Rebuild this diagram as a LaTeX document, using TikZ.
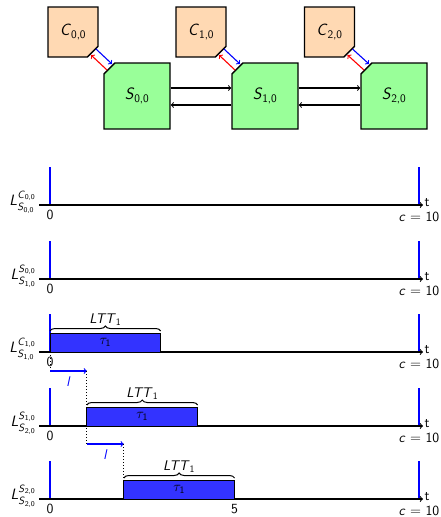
\documentclass[tikz,border=0pt]{standalone}
\usepackage{amsmath}
\usetikzlibrary{shapes.misc,decorations.pathreplacing,calc}
\renewcommand{\familydefault}{\sfdefault}
\definecolor{cpeach}{RGB}{255,217,179}
\definecolor{sgreen}{RGB}{153,255,153}
\definecolor{taskblue}{RGB}{51,51,255}
% italic sans symbol with an upright subscript
\newcommand{\symb}[2]{\textit{#1}\textsubscript{#2}}
% link latency label L^{from}_{to}
\newcommand{\lnk}[2]{$\text{\itshape L}^{\text{#1}}_{\text{#2}}$}
\begin{document}
\begin{tikzpicture}[x=1pt,y=-1pt,font=\sffamily\fontsize{14}{16}\selectfont,
  cbox/.style={chamfered rectangle,chamfered rectangle corners=south east,
    chamfered rectangle xsep=9pt,draw,line width=1.4pt,fill=cpeach,
    minimum width=50pt,minimum height=50pt,inner sep=0pt,font=\sffamily\fontsize{16.5}{18}\selectfont},
  sbox/.style={chamfered rectangle,chamfered rectangle corners=north west,
    chamfered rectangle xsep=8pt,draw,line width=1.4pt,fill=sgreen,
    minimum width=66pt,minimum height=66pt,inner sep=0pt,font=\sffamily\fontsize{16.5}{18}\selectfont},
  link/.style={->,line width=1.1pt},
  axis/.style={->,line width=1.1pt},
  bound/.style={draw=blue,line width=1.3pt},
  job/.style={draw,line width=1pt,fill=taskblue},
  lat/.style={->,draw=blue,line width=1.1pt},
  guide/.style={dotted,line width=1pt},
  ttbrace/.style={decorate,decoration={brace,amplitude=5pt},line width=1pt},
  rowlabel/.style={anchor=east,inner sep=1pt,font=\sffamily\fontsize{15}{17}\selectfont},
  tick/.style={anchor=north,inner sep=0pt,yshift=-5pt}]
\useasboundingbox (0,0) rectangle (440,517);

% platform: clusters and switches
\node[cbox] (c0) at (73,32) {\symb{C}{0,0}};
\node[cbox] (c1) at (201,32) {\symb{C}{1,0}};
\node[cbox] (c2) at (329.5,32) {\symb{C}{2,0}};
\node[sbox] (s0) at (137,96) {\symb{S}{0,0}};
\node[sbox] (s1) at (265,96) {\symb{S}{1,0}};
\node[sbox] (s2) at (394,96) {\symb{S}{2,0}};

\foreach \i in {0,1,2}{
  \draw[link,blue] ([shift={(23,17)}]c\i.center) -- ([shift={(-25,-32)}]s\i.center);
  \draw[link,red] ([shift={(-30,-26)}]s\i.center) -- ([shift={(18,23)}]c\i.center);
}
\draw[link] ([yshift=8pt]s0.east) -- ([yshift=8pt]s1.west);
\draw[link] ([yshift=8pt]s1.east) -- ([yshift=8pt]s2.west);
\draw[link] ([yshift=-9pt]s1.west) -- ([yshift=-9pt]s0.east);
\draw[link] ([yshift=-9pt]s2.west) -- ([yshift=-9pt]s1.east);

% timelines
\foreach \r/\y in {1/205,2/279,3/352,4/426,5/499}{
  \coordinate (a\r) at (39,\y);
  \coordinate (z\r) at (423,\y);
  \coordinate (o\r) at (50,\y);
  \coordinate (e\r) at (419,\y);
  \draw[bound] (o\r) -- ++(0,-38);
  \draw[bound] (e\r) -- ++(0,-38);
  \draw[axis] (a\r) -- (z\r) node[anchor=west,inner sep=1pt,yshift=2.5pt] (t\r) {t};
  \node[tick] (zero\r) at (o\r) {0};
  \node[tick,yshift=-2pt] (cap\r) at (e\r) {\textit{c} $=$ 10};
}
\node[rowlabel] (l1) at (37,202) {\lnk{\symb{C}{0,0}}{\symb{S}{0,0}}};
\node[rowlabel] (l2) at (37,276) {\lnk{\symb{S}{0,0}}{\symb{S}{1,0}}};
\node[rowlabel] (l3) at (37,349) {\lnk{\symb{C}{1,0}}{\symb{S}{1,0}}};
\node[rowlabel] (l4) at (37,423) {\lnk{\symb{S}{1,0}}{\symb{S}{2,0}}};
\node[rowlabel] (l5) at (37,496) {\lnk{\symb{S}{2,0}}{\symb{S}{2,0}}};
\node[tick] (five) at (234.5,499) {5};

% transmitted task on each link
\foreach \r/\s/\f in {3/50/160.7,4/86.9/197.6,5/123.8/234.5}{
  \path let \p1=(o\r) in coordinate (b\r) at (\s,\y1) coordinate (f\r) at (\f,\y1);
  \draw[job] (b\r) rectangle ([yshift=19pt]f\r);
  \node (tau\r) at ($(b\r)!0.5!(f\r)+(0,-9.5)$) {$\tau_{\text{1}}$};
  \draw[ttbrace] ([yshift=21pt]b\r) -- ([yshift=21pt]f\r)
    node[midway,above=4pt,inner sep=1pt] (ltt\r) {\symb{LTT}{1}};
}

% link latencies between successive hops
\coordinate (p0) at (50,371);
\coordinate (p1) at (86.9,371);
\coordinate (q0) at (86.9,444);
\coordinate (q1) at (123.8,444);
\draw[guide] (o3) -- (p0);
\draw[lat] (p0) -- (p1) node[midway,below=2pt,text=blue] (lat1) {\textit{l}};
\draw[guide] (p1) -- (q0);
\draw[lat] (q0) -- (q1) node[midway,below=2pt,text=blue] (lat2) {\textit{l}};
\draw[guide] (q1) -- (b5);
\end{tikzpicture}
\end{document}
